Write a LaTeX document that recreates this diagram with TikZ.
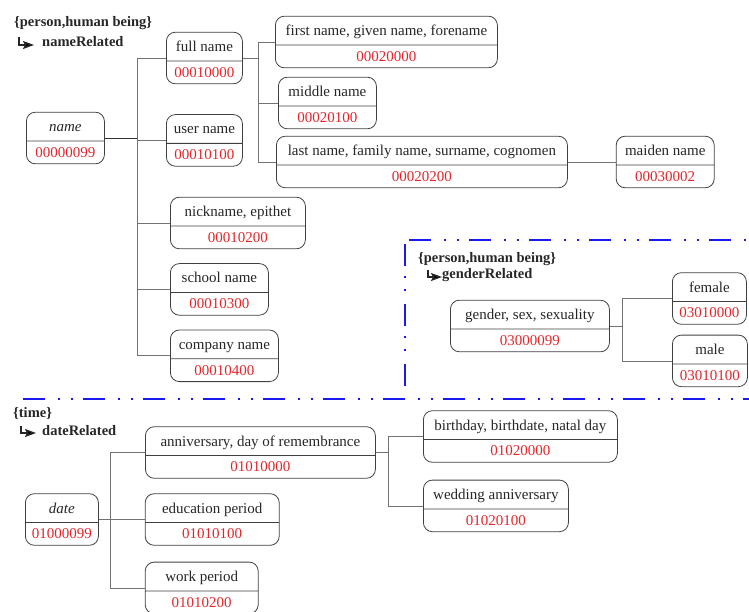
\documentclass[tikz,border=0pt]{standalone}
\usepackage{fontspec}
\setmainfont{Liberation Serif}
\usepackage{xcolor}
\definecolor{code-red}{HTML}{E3262B}
\definecolor{sep-blue}{HTML}{1A1AF0}
\usetikzlibrary{shapes.multipart}
\usetikzlibrary{arrows.meta}
\usetikzlibrary{positioning}
\tikzset{entry/.style = {draw=black!75, line width=.8pt, rounded corners=9pt, rectangle split, rectangle split parts=2, inner xsep=4pt, inner ysep=3pt, text=black!85, font=\fontsize{15}{17}\selectfont}}
\tikzset{link/.style = {draw=black!55, line width=.7pt}}
\tikzset{sep/.style = {draw=sep-blue, line width=2.8pt, dash pattern=on 22pt off 13pt on 2pt off 11pt on 2pt off 10pt}}
\tikzset{tag/.style = {inner sep=0pt, anchor=base west, font=\fontsize{14.5}{16}\selectfont\bfseries, text=black!85}}
\tikzset{hook/.style = {draw=black!85, line width=1.5pt, -{Stealth[length=11pt,width=8pt,inset=2pt]}}}
% fixed part heights, depth zero
\newcommand{\entrytext}[2]{\raisebox{6pt}[22pt][0pt]{#1}\nodepart{two}\raisebox{3pt}[16pt][0pt]{\textcolor{code-red}{#2}}}

\begin{document}
\begin{tikzpicture}[x=1pt, y=-1pt]
\useasboundingbox (0,0) rectangle (749,612);

% name branch
\node[entry, minimum width=78pt, anchor=west] (name) at (26,138) {\entrytext{\textit{name}}{00000099}};
\node[entry, minimum width=76pt, anchor=west] (fullname) at (166,58) {\entrytext{full name}{00010000}};
\node[entry, minimum width=76pt, below=30pt of fullname] (username) {\entrytext{user name}{00010100}};
\node[entry, minimum width=222pt, anchor=west] (firstname) at (275,42) {\entrytext{first name, given name, forename}{00020000}};
\node[entry, minimum width=98pt, anchor=west] (middlename) at (278,103) {\entrytext{middle name}{00020100}};
\node[entry, minimum width=291pt, anchor=west] (lastname) at (276,162) {\entrytext{last name, family name, surname, cognomen}{00020200}};
\node[entry, minimum width=98pt, right=48pt of lastname] (maidenname) {\entrytext{maiden name}{00030002}};
\node[entry, minimum width=135pt, anchor=west] (nickname) at (170,223) {\entrytext{nickname, epithet}{00010200}};
\node[entry, minimum width=98pt, below=14pt of nickname.south west, anchor=north west] (schoolname) {\entrytext{school name}{00010300}};
\node[entry, minimum width=108pt, below=14pt of schoolname.south west, anchor=north west] (companyname) {\entrytext{company name}{00010400}};

% gender branch
\node[entry, minimum width=159pt, anchor=west] (gender) at (450,326) {\entrytext{gender, sex, sexuality}{03000099}};
\node[entry, minimum width=74pt, anchor=west] (female) at (672,298.5) {\entrytext{female}{03010000}};
\node[entry, minimum width=75pt, below=10pt of female.south west, anchor=north west] (male) {\entrytext{male}{03010100}};

% date branch
\node[entry, minimum width=73pt, anchor=west] (date) at (25,519.5) {\entrytext{\textit{date}}{01000099}};
\node[entry, minimum width=230pt, anchor=west] (anniversary) at (145,452.5) {\entrytext{anniversary, day of remembrance}{01010000}};
\node[entry, minimum width=134pt, right=46pt of date] (education) {\entrytext{education period}{01010100}};
\node[entry, minimum width=113pt, below=16pt of education.south west, anchor=north west] (work) {\entrytext{work period}{01010200}};
\node[entry, minimum width=194pt, anchor=west] (birthday) at (423,436.5) {\entrytext{birthday, birthdate, natal day}{01020000}};
\node[entry, minimum width=145pt, below=17pt of birthday.south west, anchor=north west] (wedding) {\entrytext{wedding anniversary}{01020100}};

% group tags
\node[tag] (person1) at (14,27) {\{person,human being\}};
\node[tag] (namerel) at (42,47) {nameRelated};
\node[tag] (person2) at (418,262) {\{person,human being\}};
\node[tag] (genderrel) at (442,279) {genderRelated};
\node[tag] (timetag) at (13,417) {\{time\}};
\node[tag] (daterel) at (42,435) {dateRelated};

\draw[hook] ([yshift=2pt]namerel.base west) ++(-23,-8) |- ([xshift=-8pt,yshift=2pt]namerel.base west);
\draw[hook] ([yshift=2pt]genderrel.base west) ++(-14,-7) |- ([xshift=0pt,yshift=2pt]genderrel.base west);
\draw[hook] ([yshift=2pt]daterel.base west) ++(-21,-7) |- ([xshift=-6pt,yshift=2pt]daterel.base west);

% connectors
\draw[link, draw=black!80] (name.east) -- ++(33,0) coordinate (nametrunk);
\foreach \kid in {fullname, username, nickname, schoolname, companyname}
  \draw[link] (nametrunk) |- (\kid.west);
\draw[link] (fullname.east) -- ++(16,0) coordinate (fulltrunk);
\foreach \kid in {firstname, middlename, lastname}
  \draw[link] (fulltrunk) |- (\kid.west);
\draw[link] (lastname) -- (maidenname);
\draw[link] (gender.east) -- ++(13,0) coordinate (gendertrunk);
\foreach \kid in {female, male}
  \draw[link] (gendertrunk) |- (\kid.west);
\draw[link] (date.east) -- ++(12,0) coordinate (datetrunk);
\foreach \kid in {anniversary, education, work}
  \draw[link] (datetrunk) |- (\kid.west);
\draw[link] (anniversary.east) -- ++(13,0) coordinate (annivtrunk);
\foreach \kid in {birthday, wedding}
  \draw[link] (annivtrunk) |- (\kid.west);

% separators
\draw[sep] (23,399) -- (749,399);
\draw[sep] (405,386) -- (405,240);
\draw[sep] (409,240) -- (749,240);

\end{tikzpicture}
\end{document}
